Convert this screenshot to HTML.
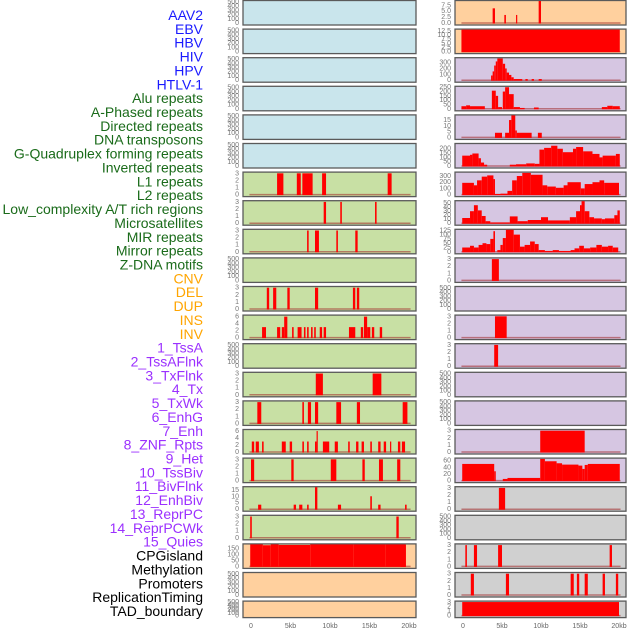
<!DOCTYPE html>
<html><head><meta charset="utf-8"><style>
body{margin:0;background:#fff}
svg{display:block;font-family:"Liberation Sans",sans-serif}
</style></head><body>
<svg id="chart" width="630" height="630" viewBox="0 0 630 630" xmlns="http://www.w3.org/2000/svg"></svg>
<script>
const labels = ["AAV2","EBV","HBV","HIV","HPV","HTLV-1","Alu repeats","A-Phased repeats","Directed repeats","DNA transposons","G-Quadruplex forming repeats","Inverted repeats","L1 repeats","L2 repeats","Low_complexity A/T rich regions","Microsatellites","MIR repeats","Mirror repeats","Z-DNA motifs","CNV","DEL","DUP","INS","INV","1_TssA","2_TssAFlnk","3_TxFlnk","4_Tx","5_TxWk","6_EnhG","7_Enh","8_ZNF_Rpts","9_Het","10_TssBiv","11_BivFlnk","12_EnhBiv","13_ReprPC","14_ReprPCWk","15_Quies","CPGisland","Methylation","Promoters","ReplicationTiming","TAD_boundary"];
const groups = ["virus","virus","virus","virus","virus","virus","repeat","repeat","repeat","repeat","repeat","repeat","repeat","repeat","repeat","repeat","repeat","repeat","repeat","sv","sv","sv","sv","sv","chrom","chrom","chrom","chrom","chrom","chrom","chrom","chrom","chrom","chrom","chrom","chrom","chrom","chrom","chrom","other","other","other","other","other"];
const E = [0,100,200,300,400,500];
const T3 = [0,1,2,3];
const yTicks = [E,E,E,E,E,E,T3,T3,T3,E,T3,[0,2,4,6],E,T3,T3,[0,2,4,6],T3,[0,5,10,15],T3,[0,50,100,150],E,E,
 [0,2.5,5,7.5],[0,2.5,5,7.5,10,12.5],[0,100,200,300],[0,50,100,150,200,250],[0,5,10,15],[0,50,100,150,200],[0,100,200,300],[0,10,20,30,40,50],[0,25,50,75,100,125],T3,E,T3,T3,E,E,T3,[0,20,40,60],T3,E,T3,T3,T3];
const yMax = [520,520,520,520,520,520,3.1,3.1,3.1,520,3.1,6.3,520,3.1,3.1,6.3,3.1,17,3.1,185,520,520,
 9.3,13.2,375,255,19,255,355,55,128,3.1,520,3.1,3.1,520,520,3.1,66,3.1,520,3.1,3.1,3.1];
const dec = [22,23];
const segs = [[],[],[],[],[],[],
 [[3.3,4.1,3],[5.8,6.3,3],[6.5,7.8,3],[9.0,9.5,3],[17.3,17.8,3]],
 [[9.2,9.5,3],[11.3,11.5,3],[15.7,15.9,3]],
 [[7.1,7.3,3],[8.1,8.6,3],[10.8,11.0,3],[13.2,13.5,3]],
 [],
 [[2.0,2.3,3],[2.8,3.2,3],[4.6,4.9,3],[8.1,8.5,3],[12.9,13.2,3],[13.4,13.7,3]],
 [[1.4,1.9,3],[3.3,3.7,3],[3.9,4.2,3],[4.2,4.6,6],[5.2,5.4,3],[5.9,6.4,3],[6.7,6.9,3],[7.1,7.3,3],[7.6,7.8,3],[8.0,8.2,3],[8.7,9.0,3],[9.2,9.5,3],[12.4,13.2,3],[13.9,14.2,3],[14.3,14.7,6],[14.7,15.1,3],[15.3,15.6,3],[16.3,16.6,3]],
 [],
 [[8.2,9.1,3],[15.4,16.5,3]],
 [[0.8,1.3,3],[6.5,6.7,3],[7.2,7.6,3],[8.1,8.5,3],[10.8,11.4,3],[13.4,13.8,3],[19.2,19.8,3]],
 [[0.1,0.4,3],[0.6,1.0,3],[1.4,1.6,3],[3.9,4.4,3],[4.9,5.2,3],[6.5,6.7,3],[7.1,7.3,3],[8.1,8.3,3],[8.3,8.4,6],[9.1,9.9,3],[10.6,11.0,3],[12.3,12.5,3],[13.3,13.6,3],[14.0,14.3,3],[15.1,15.3,3],[16.1,16.4,3],[16.8,17.1,3],[17.6,17.7,3],[18.6,18.9,3],[19.1,19.5,3]],
 [[0,0.4,3],[5.1,5.4,3],[10.1,10.8,3],[14.1,14.4,3],[16.2,16.7,3],[18.5,18.9,3]],
 [[0.9,1.3,3.5],[5.4,5.7,3.5],[6.1,6.5,3.5],[7.1,7.3,3.5],[8.1,8.4,17],[11.0,11.4,3.5],[15.1,15.3,10],[16.1,16.4,3.5],[19.5,19.7,3.5]],
 [[-0.1,0.1,3],[18.4,18.7,3]],
 [[-0.1,1.5,185],[1.5,2.5,178],[2.5,3.5,185],[3.5,7.5,180],[7.5,13,185],[13,17,185],[17,19.6,185],[19.0,19.6,180]],
 [],[],
 [[3.8,4.1,6.2],[5.3,5.5,3.4],[6.8,6.9,3.4],[9.7,10.0,9.3]],
 [[-0.2,20.1,13.2]],
 [[3.6,3.8,80],[3.8,4.0,150],[4.0,4.2,250],[4.2,4.4,320],[4.4,5.1,370],[5.1,5.4,280],[5.4,5.6,200],[5.6,5.9,130],[5.9,6.2,90],[6.2,6.5,50],[6.5,7.6,20],[8.0,8.3,20],[8.8,9.1,20],[9.7,10.1,20]],
 [[-0.2,0.4,30],[0.4,0.9,40],[0.9,2.8,30],[3.7,4.2,210],[4.2,4.5,150],[4.5,5.0,20],[5.1,5.4,200],[5.4,5.9,250],[5.9,6.5,170],[6.5,7.3,20],[7.3,7.9,10],[9.1,9.7,15],[17.8,18.5,20],[18.5,19.2,35],[19.2,20.1,30]],
 [[4.1,5.0,4],[5.4,5.9,4],[5.9,6.2,15],[6.2,6.7,19],[6.7,6.9,6],[6.9,8.8,4],[9.6,10.1,4]],
 [[-0.1,0.9,120],[0.9,1.2,130],[1.2,2.0,145],[2.0,2.3,90],[2.3,2.7,40],[2.7,3.1,15],[6.0,6.8,15],[6.8,8.1,20],[8.1,9.2,30],[9.2,9.8,25],[9.8,10.4,190],[10.4,11.3,210],[11.3,12.1,235],[12.1,12.8,200],[12.8,14.1,160],[14.1,14.5,200],[14.5,15.4,220],[15.4,16.6,170],[16.6,17.5,140],[17.5,17.9,100],[17.9,19.6,120],[19.6,20.1,140]],
 [[-0.1,1.4,190],[1.4,1.8,150],[1.8,2.4,230],[2.4,3.1,290],[3.1,3.9,310],[3.9,4.1,250],[4.1,4.8,10],[4.8,5.7,15],[5.7,6.3,60],[6.3,6.9,230],[6.9,7.6,300],[7.6,8.7,350],[8.7,10.2,320],[10.2,10.8,150],[10.8,11.9,130],[11.9,12.9,110],[12.9,13.4,150],[13.4,15.1,200],[15.1,15.6,100],[15.6,16.6,170],[16.6,17.5,200],[17.5,18.1,230],[18.1,20.0,190]],
 [[-0.1,0.9,13],[0.9,1.4,30],[1.4,1.9,45],[1.9,2.4,32],[2.4,2.9,18],[2.9,3.5,5],[3.5,6.0,2],[6.0,7.0,17],[7.0,8.3,5],[8.3,10.0,8],[10.0,10.9,15],[10.9,13.7,7],[13.7,14.5,15],[14.5,15.0,30],[15.0,15.2,45],[15.2,15.6,55],[15.6,16.2,30],[16.2,16.8,15],[16.8,17.8,12],[17.8,18.2,10],[18.2,19.4,12],[19.4,19.8,20],[19.8,20.1,32]],
 [[-0.1,0.9,25],[0.9,1.4,35],[1.4,2.0,25],[2.0,2.5,40],[2.5,3.0,50],[3.0,3.5,45],[3.5,3.9,75],[3.9,4.1,120],[4.4,4.8,10],[4.8,5.1,40],[5.1,5.5,80],[5.5,6.5,128],[6.5,7.3,100],[7.3,7.9,30],[7.9,8.6,40],[8.6,9.2,60],[9.2,9.7,45],[9.7,10.5,10],[10.5,11.5,5],[11.5,12.3,10],[12.3,13.8,5],[13.8,14.3,10],[14.3,14.9,20],[14.9,15.5,35],[15.5,16.3,20],[16.3,17.1,25],[17.1,17.8,40],[17.8,18.6,30],[18.6,19.2,35],[19.2,19.9,25]],
 [[3.7,4.6,3]],
 [],
 [[4.1,5.6,3]],
 [[4.0,4.5,3]],
 [],[],
 [[9.9,15.6,3]],
 [[-0.1,4.0,50],[4.0,4.2,28],[5.1,5.7,5],[5.7,9.9,8],[9.9,10.5,65],[10.5,12.0,58],[12.0,12.7,52],[12.7,14.8,48],[14.8,15.3,45],[15.3,15.6,35],[15.6,16.0,47],[16.0,20.1,50]],
 [[4.6,5.4,3]],
 [],
 [[0.3,0.5,3],[1.4,1.8,3],[4.5,5.0,3],[18.8,19.1,3]],
 [[1.0,1.4,3],[5.5,5.9,3],[13.8,14.2,3],[14.6,14.9,3],[15.6,16.0,3],[17.9,18.2,3],[19.6,19.9,3]],
 [[-0.1,20.0,3]]
];
const xTickVals = [0,5,10,15,20];
const xTickText = ["0","5kb","10kb","15kb","20kb"];

const NS = "http://www.w3.org/2000/svg";
const svg = document.getElementById("chart");
const bgColor = {virus:"#c9e5ec",repeat:"#c8e0a4",sv:"#ffd09e",chrom:"#d6c6e2",other:"#d0d0d0"};
const txtColor = {virus:"#1a1aff",repeat:"#1a6b1a",sv:"#ffa500",chrom:"#9b30ff",other:"#000000"};
function mk(tag, attrs, parent){const e=document.createElementNS(NS,tag);for(const k in attrs)e.setAttribute(k,attrs[k]);(parent||svg).appendChild(e);return e;}
function colGeom(c){return c===0?{x0:243,x1:416,z:251,t:409,lab:239}:{x0:455,x1:626,z:463,t:619,lab:451};}
function xScale(c,kb){const g=colGeom(c);return g.z+(g.t-g.z)*kb/20;}

labels.forEach((lab,i)=>{
  const t=mk("text",{x:203,y:15+i*13.86,"text-anchor":"end","dominant-baseline":"central","font-size":"14",fill:txtColor[groups[i]]});
  
  
  t.textContent=lab;
});

for(let p=0;p<44;p++){
  const c=p<22?0:1, r=p%22, g=colGeom(c);
  const top=r*28.6, h=r===21?17:25, bot=top+h;
  const grp=mk("g",{});
  
  
  const rect=mk("rect",{x:g.x0,y:top+0.5,width:g.x1-g.x0,height:h-0.5,fill:bgColor[groups[p]],stroke:"#5a5a5a","stroke-width":"1.3"},grp);
  
  
  const y0=bot-2, yS=(h-3)/yMax[p];
  const yv=v=>y0-v*yS;
  yTicks[p].forEach(v=>{
    const t=mk("text",{x:g.lab,y:yv(v)+2,"text-anchor":"end","font-size":"7",fill:"#777"},grp);
    
    
    t.textContent=dec.includes(p)?v.toFixed(1):String(v);
  });
  if(segs[p].length){
    const bl=mk("line",{x1:xScale(c,-0.2),x2:xScale(c,20.2),y1:y0,y2:y0,stroke:"rgba(160,40,40,0.55)","stroke-width":"1.5"},grp);
    
    
  }
  segs[p].forEach(s=>{
    const xa=xScale(c,s[0]), xb=xScale(c,s[1]), yt=Math.max(yv(s[2]),top+1);
    const b=mk("rect",{x:xa,y:yt,width:Math.max(xb-xa,1.2),height:y0-yt+0.5,fill:"#ff0000"},grp);
    
    
  });
}
[0,1].forEach(c=>{
  xTickVals.forEach((v,i)=>{
    const t=mk("text",{x:xScale(c,v),y:628,"text-anchor":"middle","font-size":"7",fill:"#666"});
    
    
    t.textContent=xTickText[i];
  });
});
</script>
</body></html>
